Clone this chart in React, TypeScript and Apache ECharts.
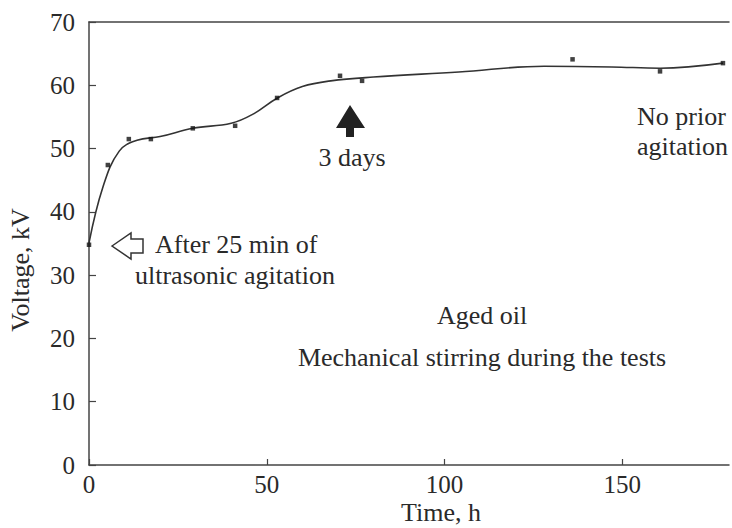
import React, { useEffect, useRef } from "react";
import * as echarts from "echarts";

const pointTimes = [0, 5.3, 11.2, 17.4, 29.2, 41.1, 52.9, 70.6, 76.8, 136, 160.6, 178.3];
const pointVolts = [34.8, 47.4, 51.5, 51.5, 53.2, 53.6, 58.0, 61.5, 60.7, 64.1, 62.2, 63.5];

const curveTimes = [0, 3.9, 8.5, 13.5, 20, 29.2, 40, 46, 53, 60, 68, 80, 104, 128, 147, 160.6, 178.3];
const curveVolts = [35.1, 43.9, 49.6, 51.3, 51.9, 53.2, 54.0, 55.4, 58.0, 59.8, 60.7, 61.3, 62.1, 63.0, 62.9, 62.7, 63.5];

const xTicks = [0, 50, 100, 150];
const yTicks = [0, 10, 20, 30, 40, 50, 60, 70];

const FONT = "'Liberation Serif', 'Times New Roman', serif";
const INK = "#2a2a2a";

export default function App() {
  const ref = useRef<HTMLDivElement>(null);
  useEffect(() => {
    if (!ref.current) return;
    const chart = echarts.init(ref.current, undefined, { renderer: "svg" });
    const textStyle = (extra: any) => ({ fill: INK, font: `26px ${FONT}`, ...extra });
    chart.setOption({
      animation: false,
      backgroundColor: "#ffffff",
      grid: { left: 89, right: 3, top: 22, bottom: 63 },
      xAxis: [
        {
          type: "value",
          min: 0,
          max: 180,
          interval: 50,
          axisLine: { show: true, onZero: false, lineStyle: { color: "#444", width: 1.5 } },
          axisTick: { show: true, inside: true, length: 6, lineStyle: { color: "#444", width: 1.2 } },
          axisLabel: {
            color: INK,
            fontFamily: FONT,
            fontSize: 25,
            margin: 7,
            showMaxLabel: false,
            formatter: (v: number) => (xTicks.includes(v) ? String(v) : ""),
          },
          splitLine: { show: false },
        },
        {
          type: "value",
          position: "top",
          min: 0,
          max: 180,
          axisLine: { show: true, onZero: false, lineStyle: { color: "#444", width: 1.5 } },
          axisTick: { show: false },
          axisLabel: { show: false },
          splitLine: { show: false },
        },
      ],
      yAxis: {
        type: "value",
        min: 0,
        max: 70,
        interval: 10,
        axisLine: { show: true, onZero: false, lineStyle: { color: "#444", width: 1.5 } },
        axisTick: { show: true, inside: true, length: 7, lineStyle: { color: "#444", width: 1.2 } },
        axisLabel: {
          color: INK,
          fontFamily: FONT,
          fontSize: 25,
          margin: 14,
          formatter: (v: number) => (yTicks.includes(v) ? String(v) : ""),
        },
        splitLine: { show: false },
      },
      series: [
        {
          type: "line",
          smooth: 0.4,
          showSymbol: false,
          data: curveTimes.map((t, i) => [t, curveVolts[i]]),
          lineStyle: { color: "#333", width: 1.6 },
          z: 2,
        },
        {
          type: "scatter",
          symbol: "rect",
          symbolSize: 4.5,
          data: pointTimes.map((t, i) => [t, pointVolts[i]]),
          itemStyle: { color: "#111" },
          z: 3,
        },
      ],
      graphic: [
        {
          type: "polygon",
          shape: {
            points: [
              [112, 246],
              [131, 233],
              [131, 239],
              [143, 239],
              [143, 253],
              [131, 253],
              [131, 259],
            ],
          },
          style: { fill: "#fff", stroke: "#333", lineWidth: 1.5 },
        },
        {
          type: "polygon",
          shape: {
            points: [
              [350, 105],
              [365, 128],
              [354, 128],
              [354, 137],
              [346, 137],
              [346, 128],
              [336, 128],
            ],
          },
          style: { fill: "#222" },
        },
        { type: "text", x: 155, y: 244, style: textStyle({ text: "After 25 min of", textAlign: "left", textVerticalAlign: "middle" }) },
        { type: "text", x: 135, y: 275, style: textStyle({ text: "ultrasonic agitation", textAlign: "left", textVerticalAlign: "middle" }) },
        { type: "text", x: 352, y: 157, style: textStyle({ text: "3 days", textAlign: "center", textVerticalAlign: "middle" }) },
        { type: "text", x: 637, y: 116, style: textStyle({ text: "No prior", textAlign: "left", textVerticalAlign: "middle" }) },
        { type: "text", x: 637, y: 146, style: textStyle({ text: "agitation", textAlign: "left", textVerticalAlign: "middle" }) },
        { type: "text", x: 482, y: 315, style: textStyle({ text: "Aged oil", textAlign: "center", textVerticalAlign: "middle" }) },
        { type: "text", x: 482, y: 357, style: textStyle({ text: "Mechanical stirring during the tests", textAlign: "center", textVerticalAlign: "middle" }) },
        { type: "text", x: 441, y: 512, style: textStyle({ text: "Time, h", textAlign: "center", textVerticalAlign: "middle" }) },
        {
          type: "text",
          x: 20,
          y: 270,
          rotation: Math.PI / 2,
          style: textStyle({ text: "Voltage, kV", textAlign: "center", textVerticalAlign: "middle" }),
        },
      ],
    });
    return () => chart.dispose();
  }, []);
  return <div ref={ref} style={{ position: "fixed", left: 0, top: 0, width: 732, height: 528 }} />;
}
